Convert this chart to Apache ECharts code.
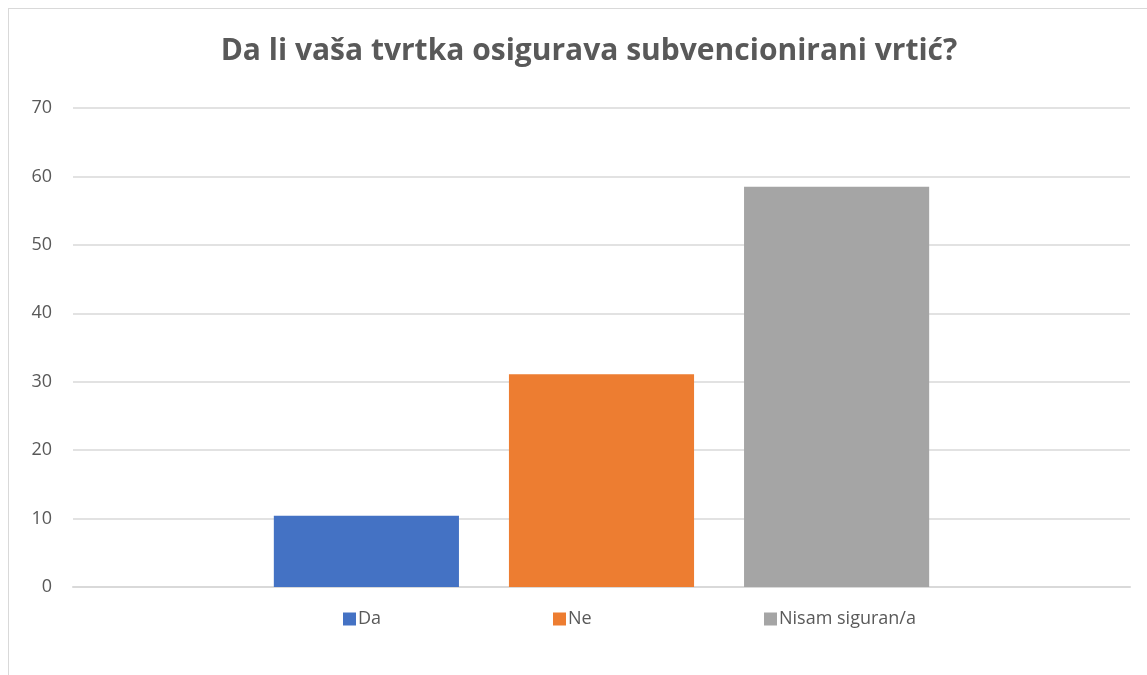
<!DOCTYPE html>
<html>
<head>
<meta charset="utf-8">
<script src="https://cdn.jsdelivr.net/npm/echarts@6/dist/echarts.min.js"></script>
<style>
  html, body { margin: 0; padding: 0; background: #fff; }
  #frame {
    position: absolute; left: 8px; top: 8px;
    width: 1160px; height: 700px;
    border: 1px solid #d9d9d9;
  }
  #chart { position: absolute; left: 0; top: 0; width: 1147px; height: 675px; }
</style>
</head>
<body>
<div id="frame"></div>
<div id="chart"></div>
<script>
// answers and their counts
const seriesNames = ['Da', 'Ne', 'Nisam siguran/a'];
const seriesValues = [10.4, 31.1, 58.5];
const seriesColors = ['#4472C4', '#ED7D31', '#A5A5A5'];
const categories = [''];
const yTicks = [0, 10, 20, 30, 40, 50, 60, 70];

const chart = echarts.init(document.getElementById('chart'));

let series = seriesNames.map((name, i) => ({
  name: name,
  type: 'bar',
  data: [seriesValues[i]],
  itemStyle: { color: seriesColors[i] },
  barGap: '27%',
  barCategoryGap: '38%'
}));

// one legend per item so they sit evenly spaced like the original
const legendLeft = [343, 553, 764];
let legends = seriesNames.map((name, i) => ({
  data: [name],
  left: legendLeft[i],
  top: 610,
  padding: 0,
  itemWidth: 13,
  itemHeight: 13,
  itemGap: 0,
  icon: 'rect',
  textStyle: {
    fontFamily: 'Open Sans',
    fontSize: 18,
    color: '#595959',
    padding: [0, 0, 0, -3]
  }
}));

chart.setOption({
  animation: false,
  title: {
    text: 'Da li vaša tvrtka osigurava subvencionirani vrtić?',
    left: 584,
    top: 31,
    textAlign: 'center',
    textStyle: {
      fontFamily: 'Open Sans',
      fontWeight: 'bold',
      fontSize: 30,
      color: '#595959'
    }
  },
  legend: legends,
  grid: {
    left: 73,
    right: 17,
    top: 108,
    bottom: 88,
    containLabel: false
  },
  xAxis: {
    type: 'category',
    data: categories,
    axisLine: { lineStyle: { color: '#d9d9d9', width: 2 } },
    axisTick: { show: false },
    axisLabel: { show: false }
  },
  yAxis: {
    type: 'value',
    min: yTicks[0],
    max: yTicks[yTicks.length - 1],
    interval: 10,
    axisLine: { show: false },
    axisTick: { show: false },
    axisLabel: {
      fontFamily: 'Open Sans',
      fontSize: 18,
      color: '#595959',
      margin: 21
    },
    splitLine: { lineStyle: { color: '#d9d9d9', width: 1.5 } }
  },
  series: series
});
</script>
</body>
</html>
